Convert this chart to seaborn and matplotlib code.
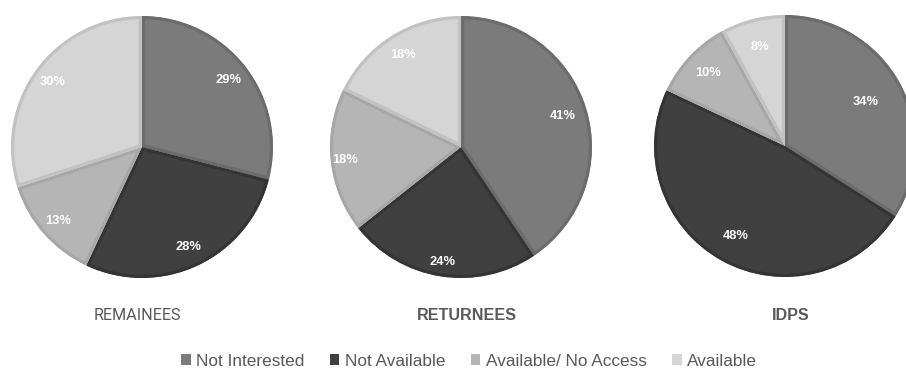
import matplotlib
matplotlib.use("Agg")
import matplotlib.pyplot as plt
from matplotlib.patches import Patch
import seaborn as sns

# Survey answers per population group (percent of respondents)
categories = ["Not Interested", "Not Available", "Available/ No Access", "Available"]
groups = ["REMAINEES", "RETURNEES", "IDPS"]
remainees = [29, 28, 13, 30]
returnees = [41, 24, 18, 18]
idps = [34, 48, 10, 8]

sns.set_theme(style="white")

fills = ["#7b7b7b", "#404040", "#b5b5b5", "#d5d5d5"]
edges = ["#6c6c6c", "#343434", "#a7a7a7", "#c2c2c2"]

W, H = 906, 372
fig = plt.figure(figsize=(W / 100, H / 100), dpi=100)
ax = fig.add_axes([0, 0, 1, 1])

# layout in pixel units (y measured upward)
centers = [(142, 225), (461, 225), (785, 226)]
radius = 131
label_dist = [
    [0.84, 0.84, 0.85, 0.84],
    [0.81, 0.89, 0.89, 0.83],
    [0.70, 0.78, 0.81, 0.78],
]
title_x = [137, 467, 791]
title_fonts = [("Roboto", "normal"), ("Liberation Sans", "bold"), ("Liberation Sans", "bold")]

for values, c, dists, name, tx, (fam, wt) in zip(
    [remainees, returnees, idps], centers, label_dist, groups, title_x, title_fonts
):
    wedges, _, autotexts = ax.pie(
        values,
        center=c,
        radius=radius,
        colors=fills,
        startangle=90,
        counterclock=False,
        autopct=lambda p: f"{p:.0f}%",
        pctdistance=0.85,
        wedgeprops=dict(linewidth=4.6),
        textprops=dict(color="white", fontsize=9.3, fontweight="bold",
                       family="Liberation Sans"),
    )
    # keep each slice's border inside the slice itself
    for w, ec in zip(wedges, edges):
        w.set_edgecolor(ec)
        w.set_clip_on(True)
        w.set_clip_path(w)
    for t, d in zip(autotexts, dists):
        x, y = t.get_position()
        s = d / 0.85
        t.set_position((c[0] + (x - c[0]) * s, c[1] + (y - c[1]) * s))
    ax.text(tx, H - 315, name, ha="center", va="center", fontsize=11.6,
            family=fam, fontweight=wt, color="#595959")

ax.set_xlim(0, W)
ax.set_ylim(0, H)
ax.set_aspect("equal")
ax.axis("off")

handles = [Patch(facecolor=f, edgecolor="none") for f in fills]
fig.legend(
    handles, categories, loc="center", bbox_to_anchor=(469 / W, 1 - 361 / H),
    ncol=4, frameon=False, handlelength=0.55, handleheight=0.55,
    handletextpad=0.3, columnspacing=1.5, borderaxespad=0,
    prop=dict(family="Liberation Sans", size=12.4),
    labelcolor="#595959",
)

fig.savefig("out.png", dpi=100, facecolor="white")
